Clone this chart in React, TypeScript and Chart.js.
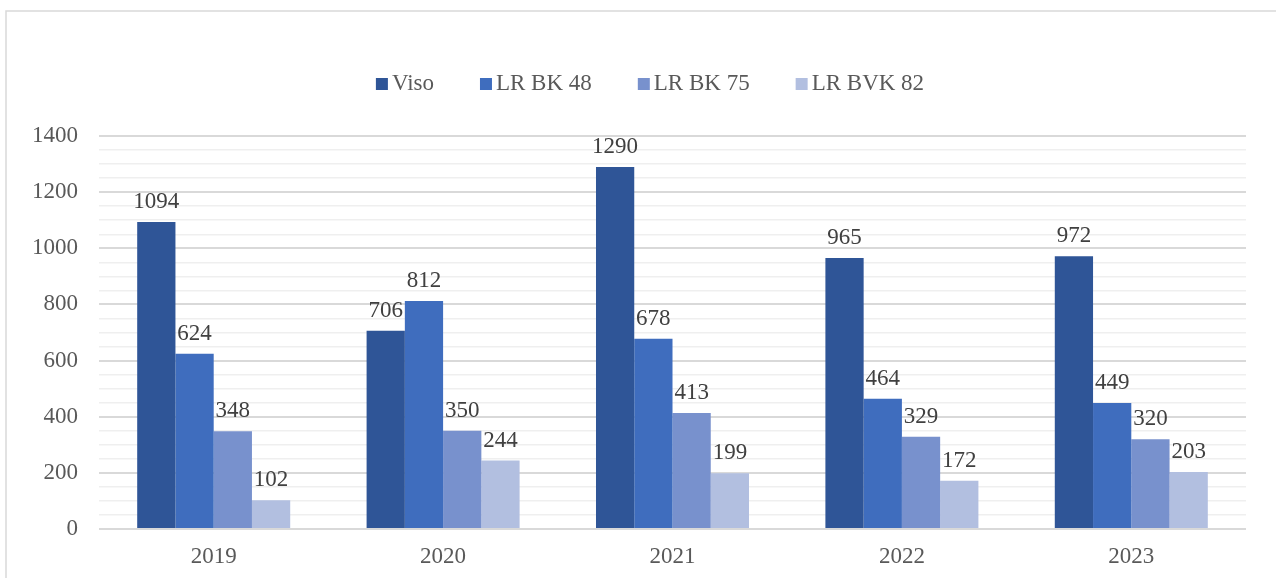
import React, { useEffect, useRef } from "react";
import { Chart, registerables } from "chart.js";

Chart.register(...registerables);

const categories = ["2019", "2020", "2021", "2022", "2023"];
const seriesNames = ["Viso", "LR BK 48", "LR BK 75", "LR BVK 82"];
const viso = [1094, 706, 1290, 965, 972];
const lrBk48 = [624, 812, 678, 464, 449];
const lrBk75 = [348, 350, 413, 329, 320];
const lrBvk82 = [102, 244, 199, 172, 203];
const colors = ["#2F5597", "#3F6DBE", "#7891CD", "#B2BFE0"];

const FONT = "'Liberation Serif', 'Times New Roman', serif";
const FS = 23;

const borderPlugin = {
  id: "frameBorder",
  beforeDraw(chart: any) {
    const ctx = chart.ctx;
    ctx.save();
    ctx.strokeStyle = "#d9d9d9";
    ctx.lineWidth = 1.5;
    ctx.beginPath();
    ctx.moveTo(chart.width, 11);
    ctx.lineTo(6, 11);
    ctx.lineTo(6, chart.height);
    ctx.stroke();
    ctx.restore();
  },
};

const legendPlugin = {
  id: "customLegend",
  afterDraw(chart: any) {
    const ctx = chart.ctx;
    ctx.save();
    ctx.font = `${FS}px ${FONT}`;
    const box = 12;
    const gap = 4;
    const itemGap = 46;
    const items = chart.data.datasets.map((ds: any) => ({
      label: ds.label,
      color: ds.backgroundColor,
      w: ctx.measureText(ds.label).width,
    }));
    const total =
      items.reduce((a: number, it: any) => a + box + gap + it.w, 0) + itemGap * (items.length - 1);
    let x = 650 - total / 2;
    const cy = 84;
    ctx.textBaseline = "middle";
    ctx.textAlign = "left";
    items.forEach((it: any) => {
      ctx.fillStyle = it.color;
      ctx.fillRect(x, cy - box / 2, box, box);
      ctx.fillStyle = "#595959";
      ctx.fillText(it.label, x + box + gap, cy);
      x += box + gap + it.w + itemGap;
    });
    ctx.restore();
  },
};

const labelPlugin = {
  id: "barLabels",
  afterDatasetsDraw(chart: any) {
    const ctx = chart.ctx;
    ctx.save();
    ctx.font = `${FS}px ${FONT}`;
    ctx.fillStyle = "#404040";
    ctx.textAlign = "center";
    ctx.textBaseline = "alphabetic";
    chart.data.datasets.forEach((ds: any, i: number) => {
      const meta = chart.getDatasetMeta(i);
      meta.data.forEach((el: any, j: number) => {
        ctx.fillText(String(ds.data[j]), el.x, el.y - 14);
      });
    });
    ctx.restore();
  },
};

export default function App() {
  const ref = useRef<HTMLCanvasElement>(null);
  useEffect(() => {
    if (!ref.current) return;
    const all = [viso, lrBk48, lrBk75, lrBvk82];
    const chart = new Chart(ref.current, {
      type: "bar",
      data: {
        labels: categories,
        datasets: all.map((d, i) => ({
          label: seriesNames[i],
          data: d,
          backgroundColor: colors[i],
          borderWidth: 0,
          barPercentage: 1,
          categoryPercentage: 0.667,
        })),
      },
      options: {
        responsive: false,
        animation: false,
        layout: { padding: { top: 136, right: 30, left: 0, bottom: 0 } },
        plugins: {
          tooltip: { enabled: false },
          legend: { display: false },
        },
        scales: {
          x: {
            grid: { display: false, drawTicks: false },
            border: { display: false },
            ticks: {
              color: "#595959",
              padding: 14,
              font: { family: FONT, size: FS },
            },
            afterFit: (s: any) => {
              s.height = 49;
            },
          },
          y: {
            min: 0,
            max: 1400,
            border: { display: false },
            grid: {
              drawTicks: false,
              color: (c: any) => (c.tick && c.tick.value % 200 === 0 ? "#d9d9d9" : "#efefef"),
              lineWidth: (c: any) => (c.tick && c.tick.value % 200 === 0 ? 2 : 1.5),
            },
            ticks: {
              stepSize: 50,
              autoSkip: false,
              padding: 21,
              color: "#595959",
              font: { family: FONT, size: FS },
              callback: (v: any) => (Number(v) % 200 === 0 ? String(v) : ""),
            },
            afterFit: (s: any) => {
              s.width = 99;
            },
          },
        },
      },
      plugins: [borderPlugin, labelPlugin, legendPlugin],
    });
    return () => chart.destroy();
  }, []);
  return (
    <div style={{ position: "absolute", left: 0, top: 0, width: 1276, height: 578, background: "#fff" }}>
      <canvas ref={ref} width={1276} height={578} style={{ width: 1276, height: 578 }} />
    </div>
  );
}
